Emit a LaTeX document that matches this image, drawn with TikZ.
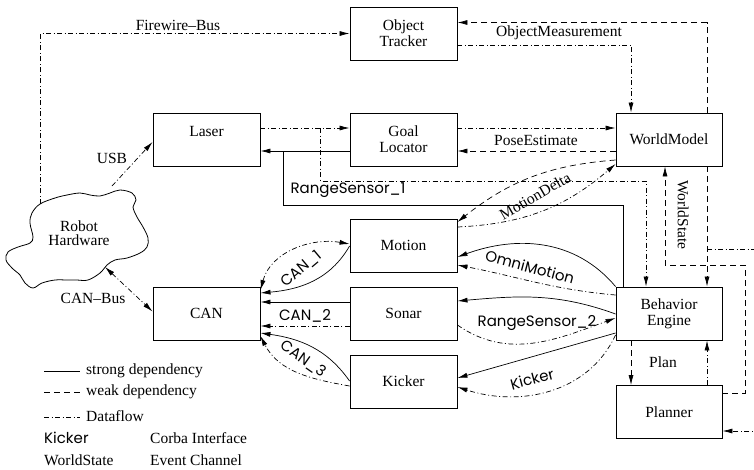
\documentclass[tikz,border=0pt]{standalone}
\usepackage{fontspec}
\setmainfont{Liberation Serif}
\newfontfamily\lblsans{Poppins}
\usetikzlibrary{arrows.meta,calc}
\begin{document}
\begin{tikzpicture}[x=1pt,y=-1pt,
  font=\fontsize{15.5}{16}\selectfont,
  box/.style={draw,line width=0.9pt,minimum width=107pt,minimum height=53pt,inner sep=0pt,align=center},
  strong/.style={line width=0.7pt},
  weak/.style={line width=0.7pt,dash pattern=on 6pt off 4pt},
  flow/.style={line width=0.7pt,dash pattern=on 5pt off 2.5pt on 1pt off 2.5pt},
  arr/.style={-{Latex[length=10pt,width=5pt]}},
  darr/.style={{Latex[length=10pt,width=5pt]}-{Latex[length=10pt,width=5pt]}},
  sanslbl/.style={font=\lblsans\fontsize{15}{16}\selectfont},
  legtxt/.style={anchor=west,inner sep=0pt}]
\clip (0,0) rectangle (754,469);

% nodes
\node[box] (tracker) at (403.5,33.5) {Object\\Tracker};
\node[box] (laser) at (206.5,139.5) {};
\node (lasertext) at (206.5,131) {Laser};
\node[box] (goal) at (403.5,139.5) {Goal\\Locator};
\node[box,minimum width=106pt] (wm) at (669,139.5) {WorldModel};
\node[box] (motion) at (403.5,245.5) {Motion};
\node[box] (sonar) at (403.5,313.5) {Sonar};
\node[box] (kicker) at (403.5,381.5) {Kicker};
\node[box] (can) at (206.5,313.5) {CAN};
\node[box,minimum width=106pt] (be) at (669,313.5) {Behavior\\Engine};
\node[box,minimum width=106pt] (planner) at (669,412) {Planner};

% cloud
\draw[line width=0.8pt] plot[smooth cycle,tension=0.6] coordinates {
 (40,204) (55,198) (67,195) (80,193) (90,195) (100,196) (110,193) (120,190)
 (132,193) (136,200) (133,207) (137,217) (143,227) (148,238) (147,247)
 (140,253) (127,258) (115,260) (107,265) (100,273) (88,280) (77,280)
 (67,280) (55,280) (42,283) (33,288) (25,283) (20,275) (12,268) (6,260)
 (8,252) (18,247) (30,243) (33,237) (30,223) (32,213)};
\node[align=center] (hwtext) at (79,233) {Robot\\[-2pt]Hardware};
\coordinate (hwtop) at (40.7,204);
\coordinate (hwusb) at (112,186);
\coordinate (hwcan) at (105,267);

% Firewire
\draw[flow,arr] (hwtop) |- (tracker.west);
\node (fwlbl) at (178,25) {Firewire--Bus};
% USB
\draw[flow,arr] (hwusb) -- ([yshift=-2.5pt]laser.west);
\node (usblbl) at (112,158) {USB};
% CAN-Bus
\draw[flow,darr] (hwcan) -- ([yshift=2pt]can.west);
\node (canbuslbl) at (93,298) {CAN--Bus};

% Object tracker <-> world model
\draw[flow,arr] ([yshift=-11.5pt]tracker.east) -| ([xshift=-38pt]wm.north);
\draw[weak,arr] ([xshift=38pt]wm.north) |- ([yshift=11pt]tracker.east);
\node (omlbl) at (559,33) {ObjectMeasurement};

% Laser / Goal locator
\draw[flow,arr] ([yshift=11.5pt]laser.east) -- ([yshift=11.5pt]goal.west);
\draw[strong,arr] ([yshift=-11.5pt]goal.west) -- ([yshift=-11.5pt]laser.east);
\coordinate (j1) at (283,151);
\coordinate (rs1) at (283,205);
\draw[strong] ([xshift=-46pt]be.north) |- (rs1) -- (j1);
\node[sanslbl] (rs1lbl) at (348,190) {RangeSensor\_1};
\coordinate (j2) at (320.7,128);
\coordinate (j3) at (320.7,181);
\draw[flow,arr] (j2) -- (j3) -| ([xshift=-23pt]be.north);

% PoseEstimate
\draw[flow,arr] ([yshift=11.5pt]goal.east) -- ([yshift=11.5pt]wm.west);
\draw[weak,arr] ([yshift=-11.5pt]wm.west) -- ([yshift=-11.5pt]goal.east);
\node (pelbl) at (536,140) {PoseEstimate};

% MotionDelta
\draw[weak,arr] ([yshift=-20.5pt]wm.west) to[bend right=17] ([yshift=23.5pt]motion.east);
\draw[flow,arr] ([yshift=18.5pt]motion.east) to[bend right=19] ([yshift=-24.5pt]wm.west);
\node[rotate=30] (mdlbl) at (535,196) {MotionDelta};

% WorldState
\coordinate (ws1) at (745,393);
\coordinate (ws2) at (745,265);
\coordinate (ws3) at (665,265);
\draw[weak,arr] ([yshift=19pt]planner.east) -- (ws1) -- (ws2) -- (ws3) -- (ws3 |- wm.south);
\draw[weak,arr] ([xshift=38pt]wm.south) -- ([xshift=38pt]be.north);
\node[rotate=-90] (wslbl) at (683,215) {WorldState};
\coordinate (wsj) at (707,249);
\coordinate (off1) at (780,249);
\coordinate (off2) at (780,431);
\draw[flow,arr] (wsj) -- (off1) -- (off2) -- ([yshift=-19pt]planner.east);

% Plan
\draw[weak,arr] ([xshift=-38pt]be.south) -- ([xshift=-38pt]planner.north);
\draw[flow,arr] ([xshift=38pt]planner.north) -- ([xshift=38pt]be.south);
\node (planlbl) at (663,362) {Plan};

% CAN_1
\draw[strong,arr] ([yshift=-0.5pt]motion.west) to[out=240,in=5] ([yshift=20.5pt]can.east);
\draw[flow,darr] ([yshift=23.5pt]can.east) to[out=75,in=170] ([yshift=1.5pt]motion.west);
\node[sanslbl,rotate=40] (can1lbl) at (301,269) {CAN\_1};
% CAN_2
\draw[strong,arr] ([yshift=11.5pt]sonar.west) -- ([yshift=11.5pt]can.east);
\draw[flow,arr] ([yshift=-12.5pt]sonar.west) -- ([yshift=-12.5pt]can.east);
\node[sanslbl] (can2lbl) at (305,316) {CAN\_2};
% CAN_3
\draw[strong,arr] ([yshift=0.5pt]kicker.west) to[out=125,in=-8] ([yshift=-19.5pt]can.east);
\draw[flow,arr] ([yshift=-4.5pt]kicker.west) to[out=170,in=297] ([yshift=-22.5pt]can.east);
\node[sanslbl,rotate=-35] (can3lbl) at (303,359) {CAN\_3};

% OmniMotion
\draw[strong,arr] (be.north west) to[out=130,in=20] ([yshift=-11.5pt]motion.east);
\draw[flow,arr] ([yshift=18.5pt]be.west) to[out=175,in=-11] ([yshift=-19.5pt]motion.east);
\node[sanslbl,rotate=-15] (omnilbl) at (530,267) {OmniMotion};

% Sonar
\draw[strong,arr] ([yshift=-0.5pt]be.west) to[out=160,in=5] ([yshift=12.5pt]sonar.east);
\draw[flow,arr] ([yshift=-11.5pt]sonar.east) to[out=-35,in=200] ([yshift=-4.5pt]be.west);
\node[sanslbl] (rs2lbl) at (537,323) {RangeSensor\_2};

% Kicker
\draw[strong,arr] ([yshift=-19.5pt]be.west) -- ([yshift=3.5pt]kicker.east);
\draw[flow,arr] ([yshift=-21.5pt]be.west) to[out=245,in=342] ([yshift=-5.5pt]kicker.east);
\node[sanslbl,rotate=15] (kicklbl) at (532,379) {Kicker};

% legend
\coordinate (l1a) at (44,371); \coordinate (l1b) at (80,371);
\coordinate (l2a) at (44,392); \coordinate (l2b) at (80,392);
\coordinate (l3a) at (44,417); \coordinate (l3b) at (80,417);
\draw[strong] (l1a) -- (l1b);
\draw[weak] (l2a) -- (l2b);
\draw[flow] (l3a) -- (l3b);
\node[legtxt] (lt1) at (86,371) {strong dependency};
\node[legtxt] (lt2) at (86,392) {weak dependency};
\node[legtxt] (lt3) at (86,416) {Dataflow};
\node[legtxt,sanslbl] (lt4) at (44,438) {Kicker};
\node[legtxt] (lt5) at (150,438) {Corba Interface};
\node[legtxt] (lt6) at (44,460) {WorldState};
\node[legtxt] (lt7) at (150,460) {Event Channel};
\end{tikzpicture}
\end{document}
